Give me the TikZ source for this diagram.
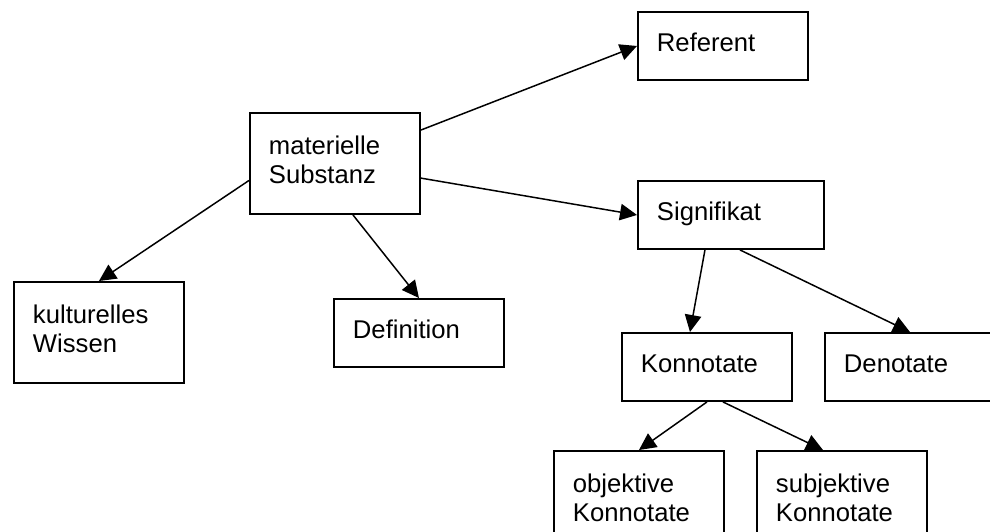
\documentclass[tikz,border=0pt]{standalone}
\usepackage{fontspec}
\setmainfont{Liberation Sans}
\usetikzlibrary{positioning,arrows.meta,calc}
\newlength{\pxu}
\setlength{\pxu}{0.02cm}

\begin{document}
\begin{tikzpicture}[
  x=0.02cm, y=-0.02cm,
  box/.style={draw, line width=1.1pt, anchor=north west, align=left, inner xsep=19\pxu, inner ysep=0pt,
    text width=132\pxu, minimum height=68\pxu, font=\fontsize{14.6pt}{16.5pt}\selectfont,
    execute at begin node=\strut, execute at end node=\strut},
  tall/.style={minimum height=101\pxu},
  arr/.style={-{Triangle[length=0.34cm, width=0.33cm]}, line width=0.85pt}
]
  \useasboundingbox (0,0) rectangle (990,531);
  \clip (0,0) rectangle (990,531);

  \node[box] (ref) at (637,11) {Referent};
  \node[box, tall] (mat) at (249,112) {materielle\\Substanz};
  \node[box, text width=148\pxu] (sig) at (637,180) {Signifikat};
  \node[box, tall] (kult) at (13,281) {kulturelles\\Wissen};
  \node[box] (def) at (333,298) {Definition};
  \node[box] (konn) at (621,332) {Konnotate};
  \node[box] (den) at (824,332) {Denotate};
  \node[box, tall] (obj) at (553,450) {objektive\\Konnotate};
  \node[box, tall] (subj) at (756,450) {subjektive\\Konnotate};

  \draw[arr] (mat) -- (ref.west);
  \draw[arr] (mat) -- (sig.west);
  \draw[arr] ($(mat.west)+(0,17)$) -- (kult.north);
  \draw[arr] ($(mat.south)+(18,0)$) -- (def.north);
  \draw[arr] ($(sig.south)+(-26,0)$) -- ($(konn.north)+(-17,0)$);
  \draw[arr] ($(sig.south)+(9,0)$) -- (den.north);
  \draw[arr] (konn.south) -- (obj.north);
  \draw[arr] ($(konn.south)+(16,0)$) -- ($(subj.north)+(-19,0)$);
\end{tikzpicture}
\end{document}
